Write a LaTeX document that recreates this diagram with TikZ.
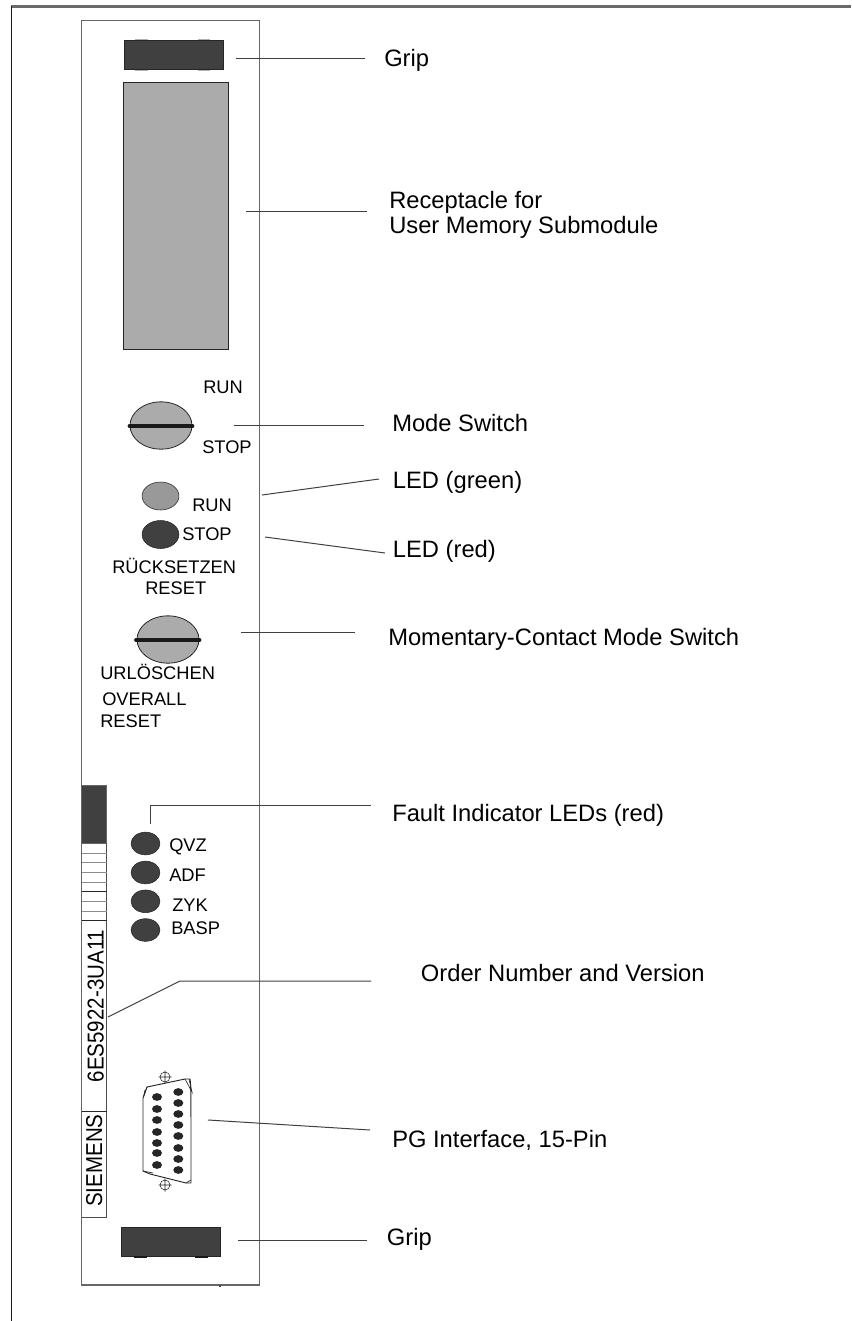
\documentclass[tikz,border=0pt]{standalone}
\usepackage{fontspec}
\setmainfont{Liberation Sans}
\usetikzlibrary{shapes.geometric}
\definecolor{darkfill}{gray}{0.25}
\definecolor{midfill}{gray}{0.67}
\definecolor{ledfill}{gray}{0.6}
\definecolor{framegray}{gray}{0.42}
\tikzset{
  lbl/.style={font=\fontsize{17.8}{18.75}\selectfont,anchor=base west,inner sep=0pt,align=left},
  sml/.style={font=\fontsize{13.7}{16}\selectfont,anchor=base west,inner sep=0pt},
  vert/.style={font=\fontsize{15.4}{18}\selectfont,rotate=90,anchor=base west,inner sep=0pt},
  lead/.style={draw=black!75,line width=0.75pt},
  panel/.style={draw=black!60,line width=1pt},
  grip/.style={draw=black!85,fill=darkfill,line width=0.6pt,anchor=north west,inner sep=0pt,minimum width=74.5pt,minimum height=22pt},
  membox/.style={draw=black!85,fill=midfill,line width=0.6pt,anchor=north west,inner sep=0pt,minimum width=79pt,minimum height=200.5pt},
  led/.style={ellipse,draw=black!85,fill=darkfill,line width=0.4pt,minimum width=21.7pt,minimum height=17pt,inner sep=0pt},
  bigled/.style={led,minimum width=27.7pt,minimum height=21pt},
  pin/.style={ellipse,fill=black!85,minimum width=7.5pt,minimum height=5.8pt,inner sep=0pt},
  knob/.style={ellipse,draw=black!85,fill=midfill,line width=0.6pt,inner sep=0pt,minimum width=46.5pt,minimum height=35.5pt},
  slotbar/.style={line width=2.8pt,black!90,line cap=round},
}
\begin{document}
\begin{tikzpicture}[x=0.75pt,y=-0.75pt]
\useasboundingbox (0,0) rectangle (851,1321);
\draw[draw=framegray,line width=1.6pt] (11,6.5) -- (851,6.5);
\draw[draw=black!90,line width=1pt] (11.5,6) -- (11.5,1321);
\draw[panel] (81.7,20.5) rectangle (259.3,1285);
\draw[draw=black!70,line width=1pt] (220,1285) -- (220,1286.5);
% grips
\node[grip] (g1) at (123.5,40) {};
\node[grip] (g2) at (121,1227) {};
\draw[draw=black!30,line width=0.7pt] (135,39.5) -- (148,39.5) (198,39.5) -- (210,39.5) (135,70.5) -- (148,70.5) (198,70.5) -- (210,70.5);
\draw[draw=black!90,line width=0.8pt] (134,1257) -- (147,1257) (195,1257) -- (208,1257);
\node[membox] (mem) at (123,82) {};
% switches
\node[knob] (ms) at (161,425.5) {};
\draw[slotbar] (129.5,426) -- (192.5,426);
\node[knob] (mc) at (168,639.5) {};
\draw[slotbar] (136,640) -- (199.5,640);
% LEDs
\node[bigled,fill=ledfill] (lg) at (160.5,496) {};
\node[bigled] (lr) at (160.5,534.5) {};
\node[led] (q) at (145.5,843.5) {};
\node[led] (a) at (145.5,872.5) {};
\node[led] (z) at (145.5,901.3) {};
\node[led] (b) at (145.5,930) {};
% small labels
\node[sml] (t1) at (203,393) {RUN};
\node[sml] (t2) at (202,453) {STOP};
\node[sml] (t3) at (192,511) {RUN};
\node[sml] (t4) at (182,540) {STOP};
\node[sml] (t5) at (112,573) {RÜCKSETZEN};
\node[sml] (t6) at (145,594) {RESET};
\node[sml] (t7) at (100,679) {URLÖSCHEN};
\node[sml] (t8) at (102,705) {OVERALL};
\node[sml] (t9) at (100,727) {RESET};
\node[sml] (t10) at (169,851) {QVZ};
\node[sml] (t11) at (169,881) {ADF};
\node[sml] (t12) at (172,911) {ZYK};
\node[sml] (t13) at (171,934) {BASP};
% strip
\draw[draw=black!60,fill=darkfill,line width=0.5pt] (81.7,785) rectangle (106.7,843);
\draw[draw=black!70,line width=0.7pt] (106.7,843) -- (106.7,1217) -- (81.7,1217);
\foreach \yy in {853,862,872,882,901,911}{\draw[draw=black!45,line width=0.7pt] (81.7,\yy) -- (106.7,\yy);}
\foreach \yy in {891,920,1111}{\draw[draw=black!85,line width=0.6pt] (81.7,\yy) -- (106.7,\yy);}
\node[vert] (o) at (103.5,1082.5) {\scalebox{1}[1.12]{6ES5922-3UA11}};
\node[vert] (s) at (102,1207) {\scalebox{1}[1.12]{SIEMENS}};
% D-sub connector
\draw[draw=black!85,line width=0.7pt,line join=round] (147,1087) -- (185,1079) -- (190,1079) .. controls (191,1085) and (191,1090) .. (191,1183) -- (186,1183) -- (150,1174) -- (143,1171) -- (143,1098) -- cycle;
\draw[draw=black!85,line width=0.5pt] (185,1079) -- (192,1092) -- (189,1079);
\draw[draw=black!85,line width=0.5pt] (147,1087) -- (143.5,1097) -- (145,1090);
\draw[draw=black!85,line width=0.5pt] (143,1171) -- (153,1173) (186,1183) -- (191,1180);
\foreach \yy in {1097,1109,1120,1132,1143,1153,1165}{\node[pin] at (157,\yy) {};}
\foreach \yy in {1092,1103,1114,1125,1136,1148,1159,1170}{\node[pin] at (178.3,\yy) {};}
\foreach \yy in {1077,1185}{\draw[draw=black!85,line width=0.4pt,fill=white] (165,\yy) circle (5) (158.5,\yy) -- (171.5,\yy) (165,\yy-6.5) -- (165,\yy+6.5);}
% leaders
\coordinate (e1) at (236,58);\coordinate (f1) at (365,58);
\draw[lead] (e1) -- (f1);
\coordinate (e2) at (246,211);\coordinate (f2) at (367,211);
\draw[lead] (e2) -- (f2);
\coordinate (e3) at (234,425);\coordinate (f3) at (364,425);
\draw[lead] (e3) -- (f3);
\coordinate (e4) at (262,495);\coordinate (f4) at (379,479);
\draw[lead] (e4) -- (f4);
\coordinate (e5) at (265,537);\coordinate (f5) at (385,553);
\draw[lead] (e5) -- (f5);
\coordinate (e6) at (241,632);\coordinate (f6) at (355,632);
\draw[lead] (e6) -- (f6);
\coordinate (e7) at (150,824);\coordinate (f7) at (371,805);
\draw[lead] (e7) |- (f7);
\coordinate (e8) at (108,1017);\coordinate (f8) at (371,981);
\draw[lead] (e8) -- (180,981) -- (f8);
\coordinate (e9) at (208,1120);\coordinate (f9) at (370,1130);
\draw[lead] (e9) -- (f9);
\coordinate (e10) at (238,1240);\coordinate (f10) at (367,1240);
\draw[lead] (e10) -- (f10);
% labels
\node[lbl] (l1) at (384,66.5) {Grip};
\node[lbl,anchor=west] (l2) at (389,214.7) {Receptacle for\\User Memory Submodule};
\node[lbl] (l3) at (392,431.5) {Mode Switch};
\node[lbl] (l4) at (392.7,488) {LED (green)};
\node[lbl] (l5) at (392.7,557.7) {LED (red)};
\node[lbl] (l6) at (388,645) {Momentary-Contact Mode Switch};
\node[lbl] (l7) at (392,821) {Fault Indicator LEDs (red)};
\node[lbl] (l8) at (420.7,981.7) {Order Number and Version};
\node[lbl] (l9) at (392,1147) {PG Interface, 15-Pin};
\node[lbl] (l10) at (386.7,1245.5) {Grip};
\end{tikzpicture}
\end{document}
